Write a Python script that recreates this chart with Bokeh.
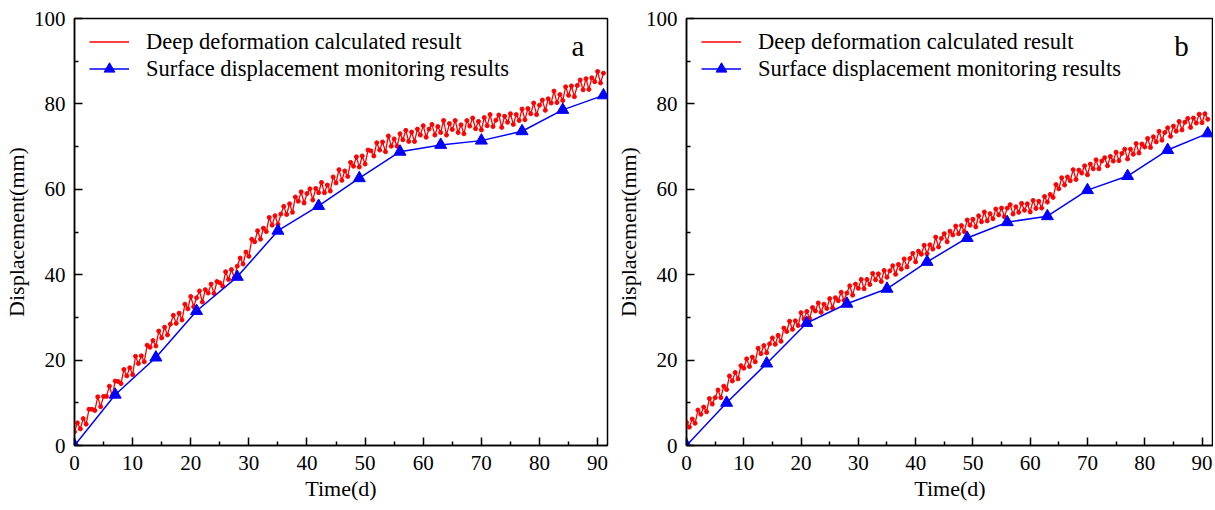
from bokeh.plotting import figure
from bokeh.layouts import row
from bokeh.models import Range1d, FixedTicker, Label, Legend, LegendItem
from bokeh.embed import file_html
from bokeh.resources import INLINE

# ---------------- data ----------------
STEP_DAYS = 0.5

deep_a = [
    3.2, 5.3, 3.9, 6.3, 5.0, 8.5, 8.5, 8.2, 11.4, 9.1,
    11.5, 11.5, 13.9, 11.6, 15.1, 15.0, 14.5, 17.8, 16.3, 18.2,
    16.6, 20.9, 19.2, 21.0, 19.6, 23.5, 23.0, 24.6, 23.3, 26.8,
    25.2, 27.7, 25.9, 28.4, 30.5, 28.6, 31.0, 29.4, 33.1, 32.0,
    34.9, 32.5, 34.6, 36.2, 33.6, 36.5, 35.7, 37.8, 35.6, 38.4,
    38.1, 37.3, 40.7, 38.9, 41.2, 39.3, 42.0, 43.9, 42.5, 45.3,
    44.3, 48.3, 47.7, 50.3, 48.3, 50.9, 50.1, 53.4, 51.6, 53.8,
    51.8, 54.2, 56.0, 54.1, 56.6, 54.6, 58.2, 57.2, 59.4, 56.8,
    59.0, 60.1, 57.5, 60.2, 59.2, 61.6, 59.2, 61.0, 59.6, 62.9,
    61.5, 64.6, 62.1, 64.3, 63.0, 66.3, 65.4, 67.6, 65.2, 67.8,
    65.9, 69.2, 69.0, 67.8, 70.9, 69.2, 71.1, 68.8, 72.5, 70.1,
    71.8, 70.1, 73.0, 71.6, 73.8, 71.2, 73.4, 71.2, 74.1, 72.7,
    74.9, 72.2, 74.1, 75.2, 72.7, 74.7, 73.3, 76.1, 72.7, 75.4,
    74.0, 76.1, 73.3, 75.1, 73.0, 76.1, 74.8, 76.7, 74.2, 75.9,
    73.9, 76.8, 74.9, 77.5, 74.7, 76.2, 77.4, 74.5, 77.1, 75.7,
    77.7, 75.2, 77.5, 76.1, 78.8, 76.3, 78.9, 77.7, 80.2, 77.5,
    79.7, 80.9, 78.5, 81.2, 80.2, 83.0, 80.3, 82.2, 80.8, 84.0,
    82.0, 84.2, 81.7, 84.3, 85.6, 83.3, 85.9, 83.4, 86.1, 85.2,
    87.6, 84.9, 87.2,
]

deep_b = [
    5.4, 4.3, 6.2, 5.2, 8.3, 7.3, 9.0, 7.9, 11.0, 9.7,
    11.2, 13.0, 11.2, 13.9, 13.1, 16.3, 15.1, 17.1, 15.6, 18.7,
    18.1, 20.3, 18.5, 20.7, 19.6, 22.8, 21.5, 23.4, 21.7, 23.8,
    25.2, 23.7, 25.8, 24.4, 27.5, 26.7, 29.1, 27.2, 29.2, 28.1,
    31.1, 29.6, 31.4, 29.7, 32.3, 31.5, 33.4, 31.2, 33.1, 32.1,
    34.4, 32.2, 34.6, 33.9, 35.9, 34.0, 35.7, 37.4, 35.2, 37.8,
    36.8, 38.9, 36.7, 38.9, 37.7, 40.3, 38.8, 40.2, 38.4, 41.0,
    39.4, 40.9, 42.1, 40.1, 42.4, 41.3, 43.7, 41.8, 43.8, 45.0,
    43.0, 45.5, 44.8, 46.9, 44.9, 47.0, 46.0, 48.8, 46.5, 48.5,
    49.6, 47.7, 50.2, 49.3, 51.4, 49.6, 51.5, 50.1, 52.8, 51.6,
    53.0, 51.2, 53.8, 52.4, 54.7, 52.6, 54.3, 53.1, 55.4, 54.0,
    55.6, 53.6, 55.6, 56.4, 54.2, 55.9, 54.6, 56.7, 55.1, 56.6,
    54.7, 57.4, 55.5, 57.2, 55.6, 58.3, 57.0, 58.8, 58.1, 61.1,
    60.1, 62.7, 61.0, 62.9, 62.0, 64.6, 62.3, 64.5, 63.8, 65.5,
    63.4, 65.9, 64.8, 66.9, 64.8, 66.6, 67.4, 65.5, 67.7, 66.6,
    68.7, 66.7, 68.4, 69.4, 67.1, 69.4, 68.2, 70.7, 68.5, 70.6,
    69.9, 71.9, 69.8, 72.3, 71.1, 73.6, 71.5, 73.3, 74.4, 72.4,
    74.8, 73.6, 75.9, 73.9, 75.7, 76.6, 74.5, 76.7, 75.5, 77.6,
    75.6, 77.7, 76.4,
]

survey_days = [0, 7, 14, 21, 28, 35, 42, 49, 56, 63, 70, 77, 84, 91]
surface_a = [0, 11.9, 20.6, 31.5, 39.5, 50.3, 56.1, 62.6, 68.8, 70.4, 71.4, 73.6, 78.6, 82.0]
surface_b = [0, 10.0, 19.2, 28.7, 33.2, 36.7, 43.0, 48.6, 52.3, 53.7, 59.8, 63.1, 69.2, 73.1]

x_ticks = [0, 10, 20, 30, 40, 50, 60, 70, 80, 90]
x_minor = [5, 15, 25, 35, 45, 55, 65, 75, 85]
y_ticks = [0, 20, 40, 60, 80, 100]
y_minor = [10, 30, 50, 70, 90]

deep_label = "Deep deformation calculated result"
surface_label = "Surface displacement monitoring results"

FONT = "Liberation Serif"
FIG_H = 508
BORDER_TOP = 18
BORDER_BOTTOM = 63
FRAME_H = FIG_H - BORDER_TOP - BORDER_BOTTOM


def make_panel(deep, surface, tag, width, border_left, border_right, x_end, tag_x):
    days = [i * STEP_DAYS for i in range(len(deep))]
    p = figure(width=width, height=FIG_H, output_backend="svg", toolbar_location=None,
               x_range=Range1d(0, x_end), y_range=Range1d(0, 100),
               min_border_left=border_left, min_border_right=border_right,
               min_border_top=BORDER_TOP, min_border_bottom=BORDER_BOTTOM)
    p.xgrid.visible = False
    p.ygrid.visible = False
    p.outline_line_color = "black"
    p.outline_line_width = 1.5
    p.outline_line_alpha = 1.0

    r_line = p.line(days, deep, color="#ff0000", line_width=1.3)
    p.scatter(days, deep, marker="circle", size=4, color="#ff0000")
    s_line = p.line(survey_days, surface, color="#0000ff", line_width=1.5)
    s_pts = p.scatter(survey_days, surface, marker="triangle", size=12, color="#0000ff")

    for ax, ticks, minor in ((p.xaxis[0], x_ticks, x_minor), (p.yaxis[0], y_ticks, y_minor)):
        ax.ticker = FixedTicker(ticks=ticks, minor_ticks=minor)
        ax.axis_line_width = 1.5
        ax.major_tick_line_width = 1.5
        ax.minor_tick_line_width = 1.5
        ax.major_tick_in = 8
        ax.major_tick_out = 0
        ax.minor_tick_in = 4
        ax.minor_tick_out = 0
        ax.major_label_text_font = FONT
        ax.major_label_text_font_size = "21px"
        ax.major_label_text_color = "black"
        ax.axis_label_text_font = FONT
        ax.axis_label_text_font_size = "22px"
        ax.axis_label_text_font_style = "normal"
        ax.axis_label_text_color = "black"

    p.xaxis.axis_label = "Time(d)"
    p.yaxis.axis_label = "Displacement(mm)"
    p.xaxis.major_label_standoff = 10
    p.yaxis.major_label_standoff = 9
    p.xaxis.axis_label_standoff = 3
    p.yaxis.axis_label_standoff = 2

    leg = Legend(items=[LegendItem(label=deep_label, renderers=[r_line]),
                        LegendItem(label=surface_label, renderers=[s_line, s_pts])],
                 location=(15, FRAME_H - 10 - 54), border_line_color=None,
                 background_fill_alpha=0, margin=0, padding=0,
                 glyph_width=40, glyph_height=27, label_height=27, spacing=0,
                 label_standoff=17, label_text_font=FONT, label_text_font_size="22.5px",
                 label_text_color="black")
    p.add_layout(leg)

    p.add_layout(Label(x=tag_x, y=93.5, text=tag, text_font=FONT, text_font_size="29px",
                       text_align="center", text_baseline="middle", text_color="black"))
    return p


pa = make_panel(deep_a, surface_a, "a", width=610, border_left=73, border_right=3,
                x_end=91.7, tag_x=86.6)
pb = make_panel(deep_b, surface_b, "b", width=603, border_left=76, border_right=0,
                x_end=92.0, tag_x=86.4)

layout = row(pa, pb)
open("out.html", "w").write(file_html(layout, INLINE))
